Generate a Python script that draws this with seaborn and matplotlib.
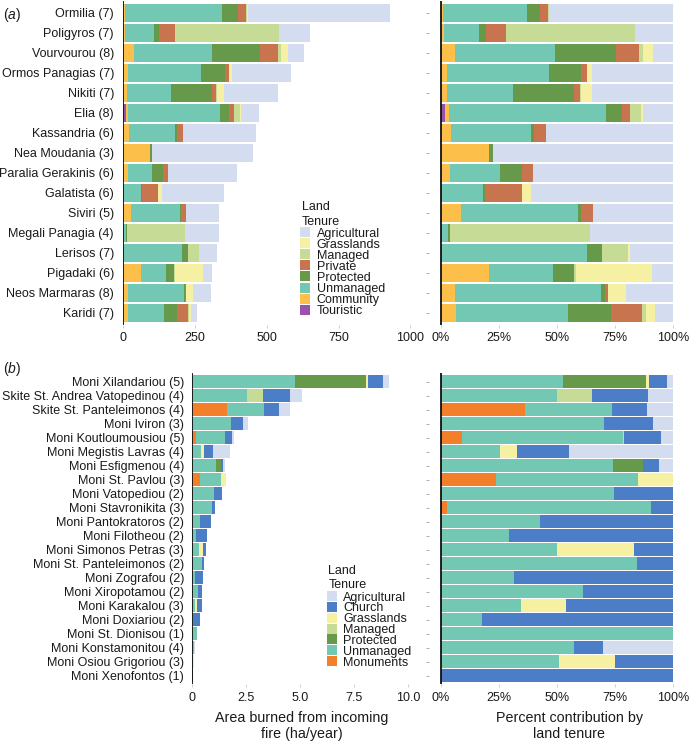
import pandas as pd
import seaborn as sns
import matplotlib.pyplot as plt
from matplotlib.patches import Rectangle

sns.set_theme(style="white")
plt.rcParams['font.family'] = ['Liberation Sans', 'DejaVu Sans']
plt.rcParams['mathtext.fontset'] = 'custom'
plt.rcParams['mathtext.rm'] = 'Liberation Sans'
plt.rcParams['mathtext.it'] = 'Liberation Sans:italic'

# ---- panel (a): municipalities ----
sites_a = ['Ormilia (7)', 'Poligyros (7)', 'Vourvourou (8)', 'Ormos Panagias (7)', 'Nikiti (7)',
           'Elia (8)', 'Kassandria (6)', 'Nea Moudania (3)', 'Paralia Gerakinis (6)', 'Galatista (6)',
           'Siviri (5)', 'Megali Panagia (4)', 'Lerisos (7)', 'Pigadaki (6)', 'Neos Marmaras (8)',
           'Karidi (7)']
total_a = [930, 649, 630, 585, 541, 473, 464, 452, 395, 351, 335, 334, 326, 308, 305, 259]

# share (%) of each land tenure, in stacking order (left -> right)
touristic_a = [0, 0, 0, 0, 0, 2.0, 0, 0, 0, 0, 0, 0, 0, 0, 0, 0]
community_a = [0.9, 1.3, 6.2, 2.7, 2.6, 1.6, 4.4, 20.8, 4.2, 0, 8.7, 0, 0, 20.8, 6.2, 6.6]
unmanaged_a = [36.0, 15.3, 42.8, 43.8, 28.5, 67.6, 34.4, 0, 21.3, 18.2, 50.4, 3.3, 63.0, 27.4, 62.9, 48.0]
protected_a = [6.0, 2.7, 26.4, 13.9, 26.2, 6.9, 1.4, 1.7, 9.3, 1.0, 1.1, 0.6, 6.4, 9.2, 1.6, 18.5]
private_a = [3.3, 8.6, 10.0, 2.4, 2.6, 3.4, 4.9, 0, 4.7, 15.6, 5.4, 0, 0, 0, 1.0, 13.6]
managed_a = [0.2, 55.7, 1.6, 0, 0.6, 4.4, 0, 0, 0, 0, 0, 60.2, 11.3, 0.9, 0, 1.4]
grasslands_a = [0.3, 0, 4.3, 2.1, 4.6, 1.1, 0, 0, 0, 4.0, 0, 0, 0.6, 32.4, 7.9, 3.9]
agricultural_a = [53.3, 16.4, 8.7, 35.1, 34.9, 13.0, 54.9, 77.5, 60.5, 61.2, 34.4, 35.9, 18.7, 9.3, 20.4, 8.0]

# ---- panel (b): monasteries ----
sites_b = ['Moni Xilandariou (5)', 'Skite St. Andrea Vatopedinou (4)', 'Skite St. Panteleimonos (4)',
           'Moni Iviron (3)', 'Moni Koutloumousiou (5)', 'Moni Megistis Lavras (4)', 'Moni Esfigmenou (4)',
           'Moni St. Pavlou (3)', 'Moni Vatopediou (2)', 'Moni Stavronikita (3)', 'Moni Pantokratoros (2)',
           'Moni Filotheou (2)', 'Moni Simonos Petras (3)', 'Moni St. Panteleimonos (2)', 'Moni Zografou (2)',
           'Moni Xiropotamou (2)', 'Moni Karakalou (3)', 'Moni Doxiariou (2)', 'Moni St. Dionisou (1)',
           'Moni Konstamonitou (4)', 'Moni Osiou Grigoriou (3)', 'Moni Xenofontos (1)']
total_b = [9.09, 5.09, 4.55, 2.60, 1.97, 1.77, 1.54, 1.58, 1.38, 1.06, 0.89, 0.71, 0.65, 0.55,
           0.52, 0.49, 0.48, 0.38, 0.23, 0.15, 0.12, 0.05]

monuments_b = [0, 0, 36.2, 0, 9.2, 0, 0, 24.0, 0, 2.9, 0, 0, 0, 0, 0, 0, 0, 0, 0, 0, 0, 0]
unmanaged_b = [52.5, 49.8, 37.6, 70.0, 69.0, 25.5, 74.2, 61.0, 74.5, 87.4, 42.9, 29.4, 49.8, 84.5,
               31.6, 61.1, 34.6, 17.6, 100, 57.1, 50.8, 0]
protected_b = [35.9, 0, 0, 0, 0, 0, 12.9, 0, 0, 0, 0, 0, 0, 0, 0, 0, 0, 0, 0, 0, 0, 0]
managed_b = [0, 15.1, 0, 0, 0.7, 0, 0, 0, 0, 0, 0, 0, 0, 0, 0, 0, 0, 0, 0, 0, 0, 0]
grasslands_b = [1.3, 0, 0, 0, 0, 7.3, 0, 15.0, 0, 0, 0, 0, 33.3, 0, 0, 0, 19.4, 0, 0, 0, 24.2, 0]
church_b = [7.5, 24.4, 14.9, 21.4, 15.8, 22.4, 6.6, 0, 25.5, 9.7, 57.1, 70.6, 16.9, 15.5,
            68.4, 38.9, 46.0, 82.4, 0, 12.6, 25.0, 100]
agricultural_b = [2.8, 10.7, 11.3, 8.6, 5.3, 44.8, 6.3, 0, 0, 0, 0, 0, 0, 0, 0, 0, 0, 0, 0, 30.3, 0, 0]

palette = {
    'Agricultural': '#d3ddef', 'Grasslands': '#f5f0a2', 'Managed': '#c6db95',
    'Private': '#c8744f', 'Protected': '#66994a', 'Unmanaged': '#72c8b2',
    'Community': '#fcc04a', 'Touristic': '#9b52aa', 'Church': '#4b7ec6',
    'Monuments': '#f47f2a',
}

layers_a = {'Touristic': touristic_a, 'Community': community_a, 'Unmanaged': unmanaged_a,
            'Protected': protected_a, 'Private': private_a, 'Managed': managed_a,
            'Grasslands': grasslands_a, 'Agricultural': agricultural_a}
layers_b = {'Monuments': monuments_b, 'Unmanaged': unmanaged_b, 'Protected': protected_b,
            'Managed': managed_b, 'Grasslands': grasslands_b, 'Church': church_b,
            'Agricultural': agricultural_b}

W, H = 691, 743
fig = plt.figure(figsize=(W / 100, H / 100), dpi=100)
TXT = '#1a1a1a'


def axes_px(left, top, right, bottom):
    return fig.add_axes([left / W, 1 - bottom / H, (right - left) / W, (bottom - top) / H])


def stacked(ax, sites, layers, totals=None):
    df = pd.DataFrame(layers, index=sites)
    vals = df.div(df.sum(axis=1), axis=0)
    if totals is not None:
        vals = vals.mul(totals, axis=0)
    cum = vals.cumsum(axis=1)
    # draw from the outermost layer inwards so shorter bars sit on top
    for tenure in reversed(list(df.columns)):
        sns.barplot(x=cum[tenure].values, y=sites, orient='h', color=palette[tenure],
                    width=0.9, saturation=1, errorbar=None, linewidth=0, ax=ax)
    n = len(sites)
    ax.set_ylim(n - 0.4, -0.6)
    ax.axvline(0, color='#111111', lw=1.3, zorder=5)
    sns.despine(ax=ax, left=True, bottom=True)
    ax.set_xlabel('')
    ax.set_ylabel('')
    ax.tick_params(axis='x', bottom=True, length=2, width=0.6, color='#c8c8c8', pad=3.5,
                   labelsize=9, labelcolor=TXT)


# panel (a)
ax1 = axes_px(123, 0.7, 424.5, 324.7)
stacked(ax1, sites_a, layers_a, total_a)
ax1.set_xlim(0, 1049)
ax1.set_xticks([0, 250, 500, 750, 1000])
ax1.set_xticklabels(['0', '250', '500', '750', '1000'])
ax1.tick_params(axis='y', left=False, length=0, pad=6.5, labelsize=9, labelcolor=TXT)

ax2 = axes_px(429, 0.7, 685, 324.7)
stacked(ax2, sites_a, layers_a)
ax2.set_xlim(-0.05, 1.05)

# panel (b)
ax3 = axes_px(191.7, 373.3, 419.2, 684.1)
stacked(ax3, sites_b, layers_b, total_b)
ax3.set_xlim(0, 10.5)
ax3.set_xticks([0, 2.5, 5, 7.5, 10])
ax3.set_xticklabels(['0', '2.5', '5.0', '7.5', '10.0'])
ax3.tick_params(axis='y', left=False, length=0, pad=5.5, labelsize=9, labelcolor=TXT)

ax4 = axes_px(429, 373.3, 685, 684.1)
stacked(ax4, sites_b, layers_b)
ax4.set_xlim(-0.05, 1.05)

for ax in (ax2, ax4):
    ax.set_xticks([0, 0.25, 0.5, 0.75, 1])
    ax.set_xticklabels(['0%', '25%', '50%', '75%', '100%'])
    ax.tick_params(axis='y', left=True, length=2, width=0.6, color='#a0a0a0', labelleft=False)


def legend_block(x, y, labels, step):
    fig.text(x / W, 1 - y / H, 'Land', fontsize=9, color=TXT, va='center_baseline')
    fig.text(x / W, 1 - (y + 14) / H, 'Tenure', fontsize=9, color=TXT, va='center_baseline')
    for i, lab in enumerate(labels):
        yc = y + 26 + i * step
        fig.add_artist(Rectangle(((x - 1.5) / W, 1 - (yc + 5) / H), 10 / W, 10 / H,
                                 transform=fig.transFigure, facecolor=palette[lab], lw=0))
        fig.text((x + 15) / W, 1 - yc / H, lab, fontsize=9, color=TXT, va='center_baseline')


legend_block(301.7, 206, ['Agricultural', 'Grasslands', 'Managed', 'Private', 'Protected',
                          'Unmanaged', 'Community', 'Touristic'], 11.1)
legend_block(328.3, 570, ['Agricultural', 'Church', 'Grasslands', 'Managed', 'Protected',
                          'Unmanaged', 'Monuments'], 10.85)

fig.text(3 / W, 1 - 15 / H, r'($\it{a}$)', fontsize=10, color=TXT, va='center')
fig.text(3 / W, 1 - 369 / H, r'($\it{b}$)', fontsize=10, color=TXT, va='center')

fig.text(301.7 / W, 1 - 726 / H, 'Area burned from incoming\nfire (ha/year)', fontsize=10.3,
         color=TXT, ha='center', va='center', linespacing=1.25)
fig.text(569 / W, 1 - 726 / H, 'Percent contribution by\nland tenure', fontsize=10.3,
         color=TXT, ha='center', va='center', linespacing=1.25)

fig.savefig('out.png', dpi=100)
